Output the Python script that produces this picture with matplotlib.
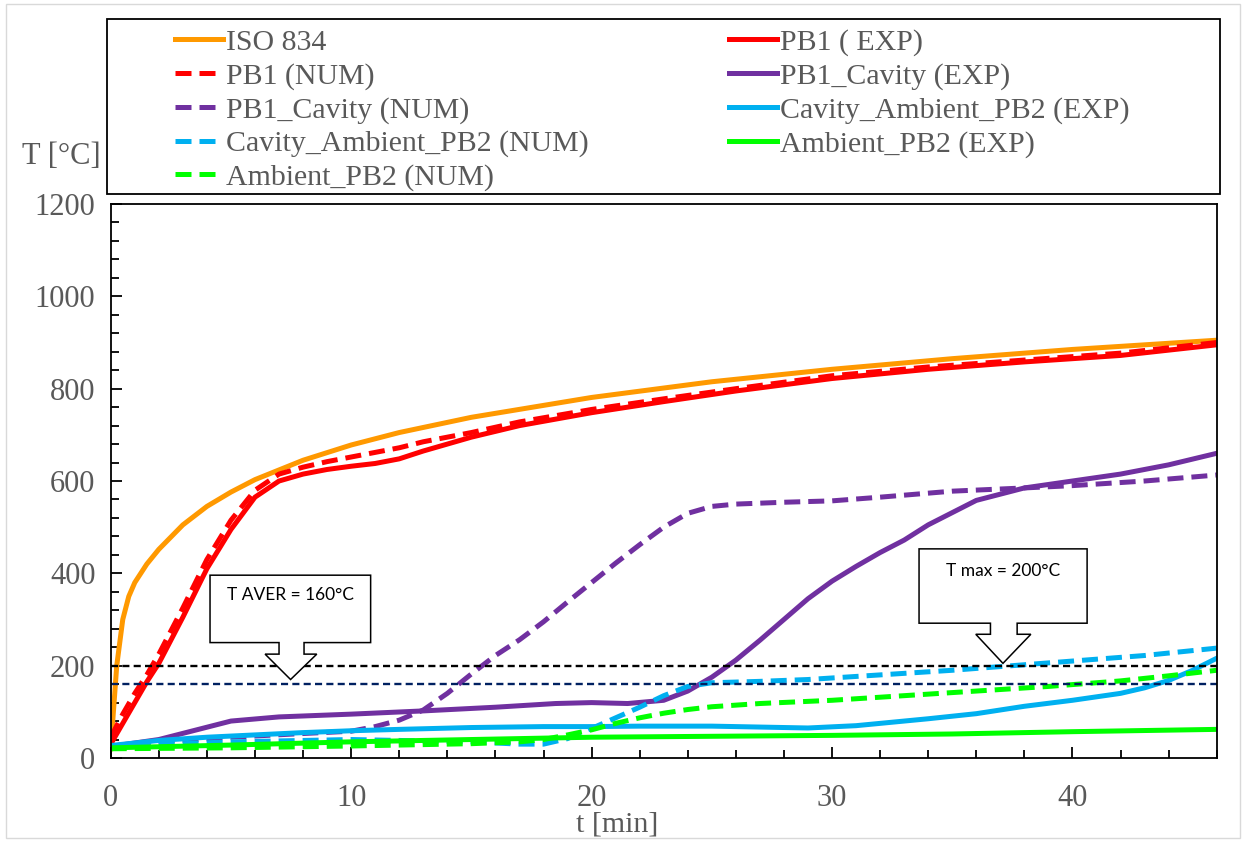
import matplotlib
matplotlib.use('Agg')
import matplotlib.pyplot as plt
from matplotlib.patches import Rectangle, Polygon
from matplotlib.ticker import MultipleLocator

plt.rcParams['font.family'] = ['Liberation Serif', 'DejaVu Serif']

# data (t in min, T in degC)
t_iso = [0, 0.25, 0.5, 0.75, 1, 1.5, 2, 3, 4, 5, 6, 8, 10, 12, 15, 20, 25, 30, 35, 40, 46]
T_iso = [20, 200, 300, 350, 380, 420, 452, 505, 545, 576, 603, 645, 678, 705, 738, 781, 815, 842, 865, 885, 905]

t_pb1 = [0, 0.5, 1, 1.5, 2, 3, 4, 5, 6, 7, 8, 9, 10, 11, 12, 13, 15, 17, 20, 23, 26, 30, 34, 38, 42, 46]
T_pb1_exp = [30, 75, 120, 165, 205, 305, 410, 495, 565, 600, 615, 625, 632, 638, 648, 665, 695, 720, 748, 772, 795, 822, 842, 858, 872, 895]
T_pb1_num = [45, 95, 140, 180, 225, 325, 430, 515, 580, 615, 630, 642, 652, 662, 672, 685, 705, 728, 755, 778, 800, 828, 847, 862, 877, 900]

t_cav_exp = [0, 2, 5, 7, 10, 13, 16, 18.5, 20, 21.5, 23, 24, 24.5, 25, 26, 27, 28, 29, 30, 31, 32, 33, 34, 36, 38, 40, 42, 44, 46]
T_cav_exp = [25, 40, 80, 89, 95, 102, 110, 118, 120, 118, 125, 145, 160, 175, 212, 255, 300, 345, 383, 415, 445, 472, 505, 558, 585, 600, 615, 635, 660]

t_cav_num = [0, 2, 5, 8, 10, 11, 12, 13, 14, 15, 16, 17, 18, 19, 20, 21, 22, 23, 24, 25, 26, 28, 30, 32, 35, 38, 40, 43, 46]
T_cav_num = [25, 35, 45, 53, 58, 68, 82, 104, 140, 182, 222, 256, 295, 338, 380, 422, 462, 500, 530, 545, 550, 554, 557, 565, 578, 585, 590, 600, 613]

t_ca_exp = [0, 2, 4, 6, 8, 10, 12, 15, 18, 20, 22, 25, 27, 29, 31, 32, 34, 36, 38, 40, 42, 43, 44, 45, 46]
T_ca_exp = [27, 38, 45, 50, 55, 59, 62, 66, 68, 68, 69, 69, 67, 65, 70, 75, 85, 96, 112, 125, 140, 152, 168, 190, 216]

t_ca_num = [0, 5, 10, 15, 17, 18, 19, 20, 21, 22, 23, 24, 25, 27, 29, 32, 35, 38, 40, 43, 46]
T_ca_num = [25, 35, 40, 35, 30, 30, 42, 64, 87, 110, 135, 155, 163, 166, 170, 180, 190, 202, 210, 222, 238]

t_amb_exp = [0, 5, 10, 15, 20, 25, 30, 35, 40, 46]
T_amb_exp = [22, 28, 35, 40, 45, 47, 49, 52, 57, 62]

t_amb_num = [0, 5, 10, 15, 17, 18, 19, 20, 21, 22, 23, 24, 25, 27, 30, 33, 36, 39, 42, 44, 46]
T_amb_num = [20, 22, 26, 31, 35, 40, 50, 61, 75, 87, 97, 105, 111, 118, 125, 135, 145, 155, 167, 178, 190]

T_max = 200
T_aver = 160

gray = '#595959'
fig = plt.figure(figsize=(12.47, 8.41), dpi=100)
ax = fig.add_axes([0.0888, 0.0987, 0.8869, 0.6587])

lw = 3.6
dash = (3.2, 1.6)
lines = []
lines += ax.plot(t_iso, T_iso, color='#FF9900', lw=lw, label='ISO 834')
lines += ax.plot(t_pb1, T_pb1_exp, color='#FF0000', lw=lw, label='PB1 ( EXP)')
lines += ax.plot(t_pb1, T_pb1_num, color='#FF0000', lw=lw, dashes=dash, label='PB1 (NUM)')
lines += ax.plot(t_cav_exp, T_cav_exp, color='#7030A0', lw=lw, label='PB1_Cavity (EXP)')
lines += ax.plot(t_cav_num, T_cav_num, color='#7030A0', lw=lw, dashes=dash, label='PB1_Cavity (NUM)')
lines += ax.plot(t_ca_exp, T_ca_exp, color='#00B0F0', lw=lw, label='Cavity_Ambient_PB2 (EXP)')
lines += ax.plot(t_ca_num, T_ca_num, color='#00B0F0', lw=lw, dashes=dash, label='Cavity_Ambient_PB2 (NUM)')
lines += ax.plot(t_amb_exp, T_amb_exp, color='#00FF00', lw=lw, label='Ambient_PB2 (EXP)')
lines += ax.plot(t_amb_num, T_amb_num, color='#00FF00', lw=lw, dashes=dash, label='Ambient_PB2 (NUM)')

ax.axhline(T_max, color='black', lw=1.7, dashes=(3, 1.8))
ax.axhline(T_aver, color='#002060', lw=1.7, dashes=(3, 1.8))

ax.set_xlim(0, 46)
ax.set_ylim(0, 1200)
ax.xaxis.set_major_locator(MultipleLocator(10))
ax.xaxis.set_minor_locator(MultipleLocator(2))
ax.yaxis.set_major_locator(MultipleLocator(200))
ax.yaxis.set_minor_locator(MultipleLocator(40))
ax.tick_params(which='both', direction='in', colors='black', labelcolor=gray, labelsize=22, width=1.3)
ax.tick_params(which='major', length=8)
ax.tick_params(which='minor', length=5.5)
ax.tick_params(axis='x', pad=19)
ax.tick_params(axis='y', pad=11)
for s in ax.spines.values():
    s.set_linewidth(1.3)

ax.set_xlabel('t [min]', fontsize=21.5, color=gray)
ax.xaxis.set_label_coords(0.458, -0.12)
ax.xaxis.label.set_va('center')
fig.text(61 / 1247, 1 - 157 / 841, 'T [°C]', fontsize=22, color=gray, ha='center', va='center')


# callout shapes (axes data coords)
def callout(x0, x1, ytop, ybot, sx0, sx1, ystem, wx0, wx1, tipx, tipy, text, ty):
    pts = [(x0, ytop), (x1, ytop), (x1, ybot), (sx1, ybot), (sx1, ystem), (wx1, ystem),
           (tipx, tipy), (wx0, ystem), (sx0, ystem), (sx0, ybot), (x0, ybot)]
    ax.add_patch(Polygon(pts, closed=True, facecolor='white', edgecolor='black', lw=1.1, zorder=5))
    ax.text(tipx, ty, text, ha='center', va='center', fontsize=12.5, family='Lato', zorder=6)


callout(4.13, 10.81, 396, 250, 7.0, 8.04, 225, 6.42, 8.57, 7.48, 170, 'T AVER = 160°C', 353)
callout(33.62, 40.61, 453, 292, 36.59, 37.7, 268, 35.98, 38.27, 37.11, 205, 'T max = 200°C', 406)

# outer chart frame and legend box
fig.add_artist(Rectangle((6 / 1247, 3 / 841), 1234 / 1247, 834 / 841, transform=fig.transFigure,
                         fill=False, edgecolor='#D9D9D9', lw=1.0))
fig.add_artist(Rectangle((107 / 1247, 1 - 194 / 841), 1113 / 1247, 175 / 841, transform=fig.transFigure,
                         fill=False, edgecolor='black', lw=1.3))
lkw = dict(frameon=False, fontsize=21.5, handlelength=1.6, handletextpad=0.1, labelspacing=0.22,
           borderpad=0, borderaxespad=0, loc='upper left', labelcolor=gray)
fig.legend(handles=[lines[i] for i in (0, 2, 4, 6, 8)], bbox_to_anchor=(175 / 1247, 1 - 29 / 841), **lkw)
fig.legend(handles=[lines[i] for i in (1, 3, 5, 7)], bbox_to_anchor=(729 / 1247, 1 - 29 / 841), **lkw)

fig.savefig('out.png', dpi=100)
